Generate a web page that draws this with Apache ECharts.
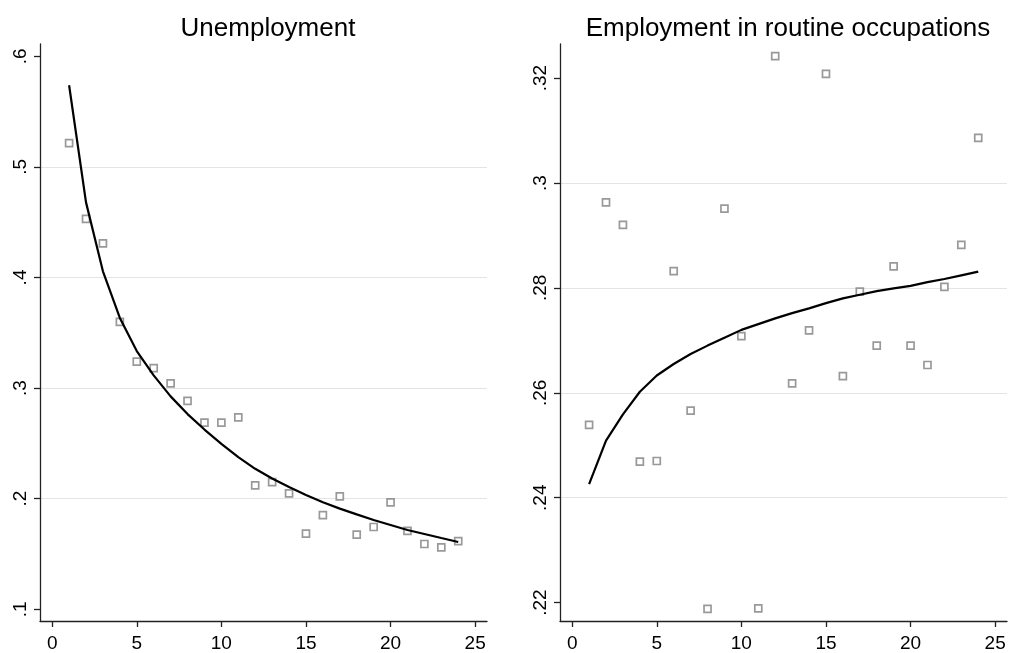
<!DOCTYPE html>
<html>
<head>
<meta charset="utf-8">
<script src="https://cdn.jsdelivr.net/npm/echarts@6/dist/echarts.min.js"></script>
<style>
html,body{margin:0;padding:0;background:#fff;}
#chart{width:1029px;height:653px;}
</style>
</head>
<body>
<div id="chart"></div>
<script>
// Horizon (x) values
var xs = [1,2,3,4,5,6,7,8,9,10,11,12,13,14,15,16,17,18,19,20,21,22,23,24];

// Unemployment: observed points and fitted line
var unempObs = [0.5215,0.4529,0.4309,0.3598,0.3240,0.3180,0.3042,0.2885,0.2687,0.2687,0.2735,0.2120,
                0.2150,0.2048,0.1684,0.1852,0.2021,0.1675,0.1744,0.1967,0.1708,0.1590,0.1560,0.1617];
var unempFit = [0.5738,0.4679,0.4056,0.3634,0.3335,0.3115,0.2925,0.2765,0.2625,0.2495,0.2375,0.2270,
                0.2182,0.2105,0.2033,0.1967,0.1910,0.1858,0.1807,0.1762,0.1717,0.1681,0.1644,0.1608];

// Employment in routine occupations: observed points and fitted line
var routObs = [0.2539,0.2963,0.2920,0.2469,0.2470,0.2832,0.2566,0.2188,0.2951,0.2708,0.2189,0.3242,
               0.2618,0.2719,0.3208,0.2632,0.2793,0.2690,0.2841,0.2690,0.2653,0.2802,0.2882,0.3086];
var routFit = [0.2426,0.2509,0.2559,0.2602,0.2633,0.2655,0.2674,0.2690,0.2705,0.2720,0.2731,0.2742,
               0.2752,0.2761,0.2771,0.2780,0.2787,0.2794,0.2799,0.2804,0.2811,0.2817,0.2824,0.2831];

// Tick labels
var xTicks = [0,5,10,15,20,25];
var unempTicks = [0.1,0.2,0.3,0.4,0.5,0.6];
var routTicks = [0.22,0.24,0.26,0.28,0.3,0.32];

var titles = ['Unemployment', 'Employment in routine occupations'];

function pairs(x, y){ return x.map(function(v,i){ return [v, y[i]]; }); }
function fmtDot(v){ return String(v).replace(/^0(?=\.)/, ''); }

var FONT = 'Liberation Sans, Arial, sans-serif';

function xAxisCfg(idx){
  return {
    type:'value', gridIndex: idx, min: -0.72, max: 25.7,
    axisLine:{show:true, onZero:false, lineStyle:{color:'#222', width:1.3}},
    axisTick:{show:true, length:6, customValues: xTicks, lineStyle:{color:'#222', width:1.3}},
    axisLabel:{customValues: xTicks, margin:13, fontSize:19, color:'#000', fontFamily:FONT},
    splitLine:{show:false}
  };
}
function yAxisCfg(idx, min, max, ticks){
  return {
    type:'value', gridIndex: idx, min: min, max: max,
    axisLine:{show:true, onZero:false, lineStyle:{color:'#222', width:1.3}},
    axisTick:{show:true, length:6, customValues: ticks, lineStyle:{color:'#222', width:1.3}},
    axisLabel:{customValues: ticks, rotate:90, margin:10, fontSize:19, color:'#000', fontFamily:FONT,
               formatter: fmtDot},
    splitLine:{show:true, showMinLine:false, showMaxLine:false, lineStyle:{color:'#e4e4e4', width:1}}
  };
}

var scatterStyle = {color:'#fff', borderColor:'#808080', borderWidth:1.7};

var option = {
  animation:false,
  backgroundColor:'#fff',
  title:[
    {text:titles[0], left:263, top:11, textAlign:'center',
     textStyle:{fontSize:26, fontWeight:'normal', color:'#000', fontFamily:FONT}},
    {text:titles[1], left:783, top:11, textAlign:'center',
     textStyle:{fontSize:26, fontWeight:'normal', color:'#000', fontFamily:FONT}}
  ],
  grid:[
    {left:40, top:44, right:542, bottom:31},
    {left:560, top:44, right:22, bottom:31}
  ],
  xAxis:[xAxisCfg(0), xAxisCfg(1)],
  yAxis:[
    yAxisCfg(0, 0.0894, 0.6111, unempTicks),
    yAxisCfg(1, 0.2165, 0.3265, routTicks)
  ],
  series:[
    {type:'scatter', xAxisIndex:0, yAxisIndex:0, data:pairs(xs, unempObs),
     symbol:'rect', symbolSize:7, itemStyle:scatterStyle, z:2},
    {type:'line', xAxisIndex:0, yAxisIndex:0, data:pairs(xs, unempFit),
     showSymbol:false, symbol:'none', lineStyle:{color:'#000', width:2.2}, z:3},
    {type:'scatter', xAxisIndex:1, yAxisIndex:1, data:pairs(xs, routObs),
     symbol:'rect', symbolSize:7, itemStyle:scatterStyle, z:2},
    {type:'line', xAxisIndex:1, yAxisIndex:1, data:pairs(xs, routFit),
     showSymbol:false, symbol:'none', lineStyle:{color:'#000', width:2.2}, z:3}
  ]
};

var chart = echarts.init(document.getElementById('chart'), null, {renderer:'canvas'});
chart.setOption(option);
</script>
</body>
</html>
